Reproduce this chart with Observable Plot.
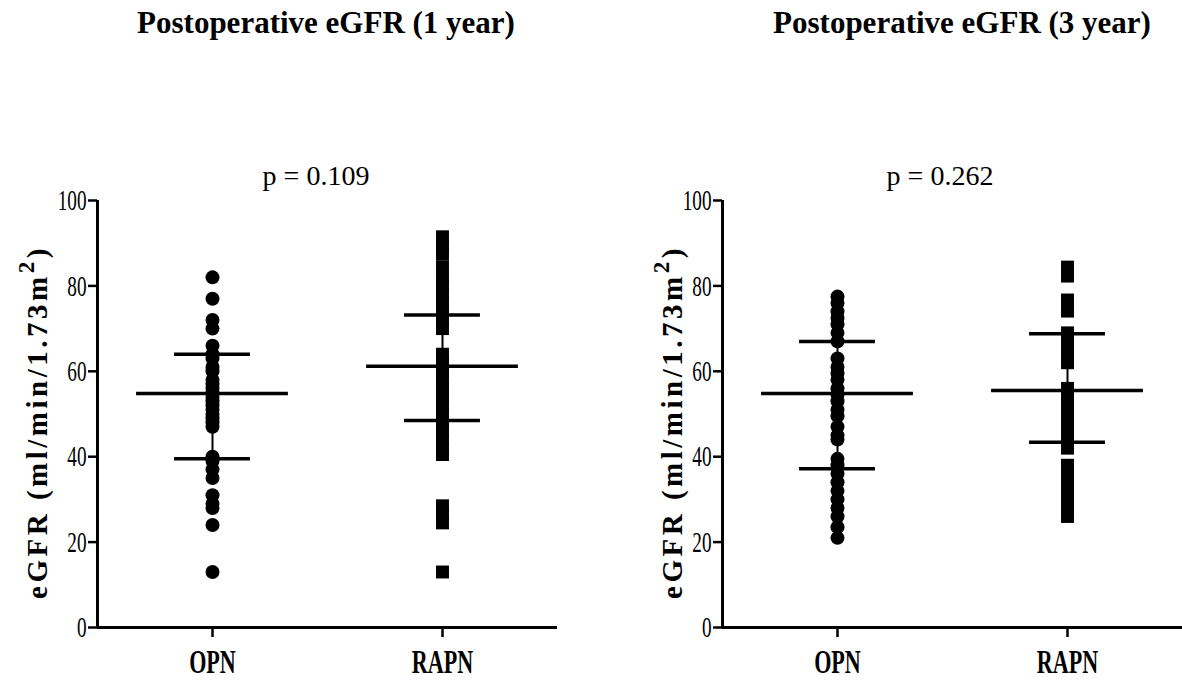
<!DOCTYPE html>
<html>
<head>
<meta charset="utf-8">
<script src="https://cdn.jsdelivr.net/npm/d3@7"></script>
<script src="https://cdn.jsdelivr.net/npm/@observablehq/plot@0.6"></script>
<style>
  body { margin: 0; background: #fff; }
  #wrap { position: relative; width: 1182px; height: 680px; overflow: hidden;
          font-family: "Liberation Serif", "Times New Roman", serif; color: #000; }
  .panel { position: absolute; top: 0; width: 591px; height: 680px; }
  .panel svg { position: absolute; left: 0; top: 160px; }
  .title { position: absolute; top: 5px; transform: translateX(-50%); white-space: nowrap;
           font-weight: bold; font-size: 31px; line-height: normal; }
  .pval { position: absolute; top: 160px; transform: translateX(-50%); white-space: nowrap;
          font-size: 28px; line-height: normal; }
  .ylab { position: absolute; transform: translate(-50%, -50%) rotate(-90deg); white-space: nowrap;
          font-weight: bold; font-size: 29px; letter-spacing: 3.5px; line-height: 1; }
  .ylab sup { font-size: 0.8em; vertical-align: 0.55em; line-height: 0; }
</style>
</head>
<body>
<div id="wrap"></div>
<script>
// ---------- data ----------
const categories = ["OPN", "RAPN"];
const yTicks = [0, 20, 40, 60, 80, 100];
const titles = ["Postoperative eGFR (1 year)", "Postoperative eGFR (3 year)"];
const pValues = ["p = 0.109", "p = 0.262"];
const yLabel = "eGFR (ml/min/1.73m";

// 1 year
const opn1 = [82, 77, 72, 70, 66, 64, 63, 61, 60, 58, 57, 56, 55, 54, 53, 52, 51, 50, 49, 48, 47,
              40, 39, 37, 35, 31, 29, 28, 24, 13];
const rapn1 = [91.5, 89.5, 87.5, 84.5, 82, 80, 78, 76, 74, 72, 70,
               64, 62, 61, 60, 58, 56, 55, 54, 52, 50, 48, 46, 44, 42, 40.5,
               28.5, 26.5, 24.5, 13];
const median1 = [54.8, 61.2];
const q1_1 = [39.5, 48.5];
const q3_1 = [64, 73.2];

// 3 year
const opn3 = [77.5, 76, 74, 72.5, 71, 69, 67, 63, 61, 59.5, 58, 56, 54.5, 53, 51, 49.5, 47, 45, 44,
              39.5, 38, 36, 34, 32, 30, 28, 26, 23.5, 21];
const rapn3 = [84.4, 82.3, 76.7, 74.1, 69, 67, 65, 63.5, 62,
               56, 54, 52, 50, 48, 46, 44, 42, 38, 36, 34, 32, 30, 28, 26];
const median3 = [54.8, 55.5];
const q1_3 = [37.2, 43.4];
const q3_3 = [67, 68.8];

// ---------- drawing ----------
const wrap = document.getElementById("wrap");

function squeeze(svg, label, k) {
  svg.querySelectorAll(`g[aria-label="${label}"] text`).forEach(t => {
    const tr = t.getAttribute("transform");
    if (tr) t.setAttribute("transform", tr + ` scale(${k},1)`);
    else {
      const x = t.getAttribute("x") || 0, y = t.getAttribute("y") || 0;
      t.removeAttribute("x"); t.removeAttribute("y");
      t.setAttribute("transform", `translate(${x},${y}) scale(${k},1)`);
    }
  });
}

function panel(cfg) {
  const div = document.createElement("div");
  div.className = "panel";
  div.style.left = cfg.left + "px";
  wrap.appendChild(div);

  const rows = (vals, g) => vals.map(v => ({g, v}));
  const summary = categories.map((c, i) => ({g: i, median: cfg.median[i], q1: cfg.q1[i], q3: cfg.q3[i]}));

  const chart = Plot.plot({
    width: 591,
    height: 520,
    marginTop: 40,
    marginBottom: 53,
    marginLeft: cfg.marginLeft,
    marginRight: cfg.marginRight,
    style: {background: "transparent", fontFamily: "Liberation Serif, Times New Roman, serif", color: "#000"},
    x: {domain: [-0.5, 1.5]},
    y: {domain: [0, 100]},
    marks: [
      Plot.ruleX(summary, {x: "g", y1: "q1", y2: "q3", stroke: "#000", strokeWidth: 2}),
      Plot.dot(rows(cfg.opn, 0), {x: "g", y: "v", r: 7, fill: "#000", stroke: "none"}),
      Plot.dot(rows(cfg.rapn, 1), {x: "g", y: "v", r: 7.3, symbol: "square", fill: "#000", stroke: "none"}),
      Plot.ruleY(summary, {y: "median", x1: d => d.g - 0.33, x2: d => d.g + 0.33, stroke: "#000", strokeWidth: 3.5}),
      Plot.ruleY(summary, {y: "q1", x1: d => d.g - 0.165, x2: d => d.g + 0.165, stroke: "#000", strokeWidth: 3.5}),
      Plot.ruleY(summary, {y: "q3", x1: d => d.g - 0.165, x2: d => d.g + 0.165, stroke: "#000", strokeWidth: 3.5}),
      Plot.ruleX([-0.5], {stroke: "#000", strokeWidth: 3}),
      Plot.ruleY([0], {stroke: "#000", strokeWidth: 3}),
      Plot.axisY({ticks: yTicks, tickSize: 9, tickPadding: 2, fontSize: 30, label: null,
                  stroke: "#000", strokeWidth: 2.5, fill: "#000"}),
      Plot.axisX({ticks: [0, 1], tickFormat: i => categories[i], tickSize: 10, tickPadding: 12,
                  fontSize: 33, fontWeight: "bold", label: null, stroke: "#000", strokeWidth: 2.5, fill: "#000"})
    ]
  });
  div.appendChild(chart);
  squeeze(chart, "y-axis tick label", 0.64);
  squeeze(chart, "x-axis tick label", 0.67);

  const t = document.createElement("div");
  t.className = "title"; t.style.left = cfg.titleX + "px"; t.textContent = cfg.title;
  div.appendChild(t);
  const p = document.createElement("div");
  p.className = "pval"; p.style.left = cfg.pX + "px"; p.textContent = cfg.p;
  div.appendChild(p);
  const yl = document.createElement("div");
  yl.className = "ylab"; yl.style.left = cfg.ylabX + "px"; yl.style.top = "422px";
  yl.innerHTML = yLabel + "<sup>2</sup>)";
  div.appendChild(yl);
}

panel({left: 0, marginLeft: 97, marginRight: 34, titleX: 326, pX: 316, ylabX: 37,
       title: titles[0], p: pValues[0], opn: opn1, rapn: rapn1, median: median1, q1: q1_1, q3: q3_1});
panel({left: 591, marginLeft: 131, marginRight: 0, titleX: 371, pX: 349, ylabX: 81,
       title: titles[1], p: pValues[1], opn: opn3, rapn: rapn3, median: median3, q1: q1_3, q3: q3_3});
</script>
</body>
</html>
